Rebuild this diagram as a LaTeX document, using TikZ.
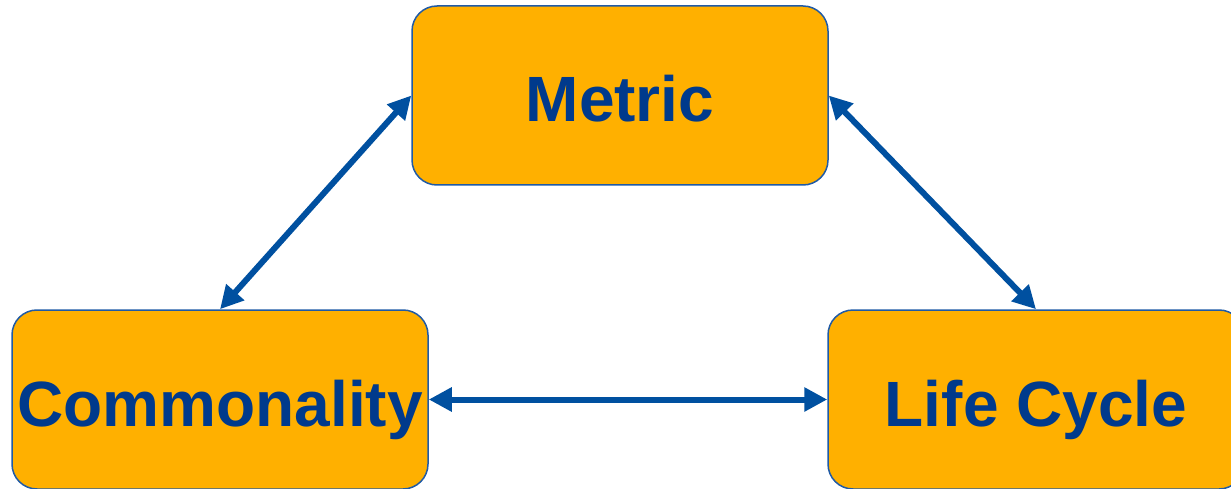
\documentclass[tikz,border=0pt]{standalone}
\usepackage{fontspec}
\setmainfont{Liberation Sans}
\usetikzlibrary{arrows.meta}
\definecolor{boxfill}{HTML}{FFB000}
\definecolor{boxline}{HTML}{1F5AA6}
\definecolor{txtblue}{HTML}{003A8C}
\definecolor{arrblue}{HTML}{0050A0}
\tikzset{
  box/.style={draw=boxline, line width=1.5pt, fill=boxfill, rounded corners=25pt,
    minimum width=416pt, minimum height=179pt, inner sep=0pt,
    text height=60pt, text depth=7pt, text=txtblue,
    font=\fontsize{64}{70}\selectfont\bfseries},
  link/.style={draw=arrblue, line width=6pt,
    {Triangle[length=23pt,width=23pt]}-{Triangle[length=23pt,width=23pt]}}
}
\begin{document}
\begin{tikzpicture}[x=1pt,y=1pt]
\useasboundingbox (0,0) rectangle (1231,488);
\clip (0,0) rectangle (1231,488);
\node[box] (met) at (620,392.5) {Metric};
\node[box] (com) at (220,88.5) {Commonality};
\node[box] (life) at (1036,88.5) {Life Cycle};
\draw[link] (com.north) -- (met.west);
\draw[link] (met.east) -- (life.north);
\draw[link] (com.east) -- (life.west);
\end{tikzpicture}
\end{document}
